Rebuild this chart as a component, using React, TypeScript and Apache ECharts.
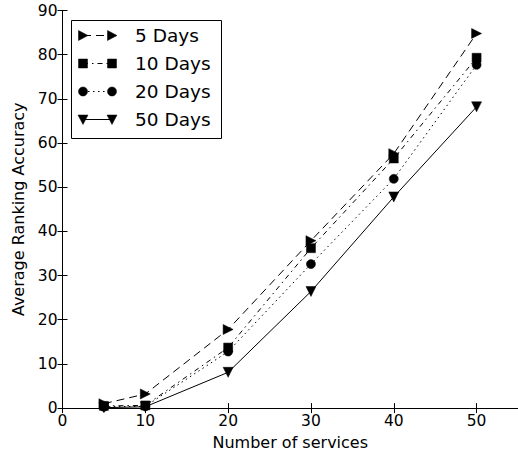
import React, { useEffect, useRef } from "react";
import * as echarts from "echarts";

const xValues = [5, 10, 20, 30, 40, 50];
const days5 = [1.0, 3.2, 17.8, 37.9, 57.6, 84.8];
const days10 = [0.5, 0.6, 13.7, 36.2, 56.5, 79.3];
const days20 = [0.3, 0.4, 12.8, 32.6, 51.9, 77.7];
const days50 = [0.1, 0.3, 8.1, 26.4, 47.8, 68.2];
const xTicks = [0, 10, 20, 30, 40, 50];
const yTicks = [0, 10, 20, 30, 40, 50, 60, 70, 80, 90];
const seriesNames = ["5 Days", "10 Days", "20 Days", "50 Days"];

const FONT = "DejaVu Sans";

export default function App() {
  const ref = useRef<HTMLDivElement>(null);
  useEffect(() => {
    if (!ref.current) return;
    const chart = echarts.init(ref.current, null, { renderer: "svg" });
    const pair = (ys: number[]) => xValues.map((x, i) => [x, ys[i]]);
    const dashes: any[] = [[8, 5], [5, 4, 1.5, 4], [1.5, 3.5], "solid"];
    const symbols = ["triangle", "rect", "circle", "triangle"];
    const rotates = [-90, 0, 0, 180];
    const sizes = [10, 9, 9, 10];
    const data = [days5, days10, days20, days50];

    const axisCommon = {
      axisLine: { show: true, lineStyle: { color: "#000", width: 1 } },
      axisTick: { show: true, inside: true, length: 5, lineStyle: { color: "#000", width: 1 } },
      splitLine: { show: false },
    };

    const lx1 = 83, lx2 = 112, textX = 135;
    const rowY = (i: number) => 35.5 + 28 * i;
    const markerShape = (i: number, cx: number, cy: number): any => {
      const st = { fill: "#000", stroke: "#000", lineWidth: 0.5 };
      if (i === 0)
        return { type: "polygon", shape: { points: [[cx - 4.5, cy - 5], [cx + 5, cy], [cx - 4.5, cy + 5]] }, style: st };
      if (i === 1) return { type: "rect", shape: { x: cx - 4.5, y: cy - 4.5, width: 9, height: 9 }, style: st };
      if (i === 2) return { type: "circle", shape: { cx, cy, r: 4.5 }, style: st };
      return { type: "polygon", shape: { points: [[cx - 5, cy - 4.5], [cx + 5, cy - 4.5], [cx, cy + 5]] }, style: st };
    };
    const legendChildren: any[] = [
      { type: "rect", shape: { x: 71.5, y: 20.5, width: 150, height: 118 }, style: { fill: "#fff", stroke: "#000", lineWidth: 1 } },
    ];
    seriesNames.forEach((name, i) => {
      const y = rowY(i);
      legendChildren.push({
        type: "line",
        shape: { x1: lx1, y1: y, x2: lx2, y2: y },
        style: { stroke: "#000", lineWidth: 1, lineDash: dashes[i] === "solid" ? null : dashes[i] },
      });
      legendChildren.push(markerShape(i, lx1, y));
      legendChildren.push(markerShape(i, lx2, y));
      legendChildren.push({
        type: "text",
        x: textX,
        y,
        style: { text: name, fontFamily: FONT, fontSize: 18.5, fill: "#000", verticalAlign: "middle", align: "left" },
      });
    });

    chart.setOption({
      animation: false,
      backgroundColor: "#fff",
      grid: { left: 62.5, top: 10.5, right: -1, bottom: 44.5, containLabel: false },
      xAxis: [
        {
          type: "value",
          min: 0,
          max: 55,
          interval: 10,
          position: "bottom",
          ...axisCommon,
          axisTick: { ...axisCommon.axisTick, customValues: xTicks },
          axisLabel: { customValues: xTicks, color: "#000", fontFamily: FONT, fontSize: 15.5, margin: 5 },
          name: "Number of services",
          nameLocation: "middle",
          nameGap: 23,
          nameTextStyle: { color: "#000", fontFamily: FONT, fontSize: 16 },
        },
        {
          type: "value",
          min: 0,
          max: 55,
          interval: 10,
          position: "top",
          ...axisCommon,
          axisTick: { ...axisCommon.axisTick, customValues: xTicks },
          axisLabel: { show: false },
        },
      ],
      yAxis: [
        {
          type: "value",
          min: 0,
          max: 90,
          interval: 10,
          position: "left",
          ...axisCommon,
          axisTick: { ...axisCommon.axisTick, customValues: yTicks },
          axisLabel: { customValues: yTicks, color: "#000", fontFamily: FONT, fontSize: 15.5, margin: 5 },
          name: "Average Ranking Accuracy",
          nameLocation: "middle",
          nameGap: 29,
          nameTextStyle: { color: "#000", fontFamily: FONT, fontSize: 16 },
        },
        {
          type: "value",
          min: 0,
          max: 90,
          interval: 10,
          position: "right",
          ...axisCommon,
          axisTick: { ...axisCommon.axisTick, customValues: yTicks },
          axisLabel: { show: false },
        },
      ],
      series: seriesNames.map((name, i) => ({
        name,
        type: "line",
        data: pair(data[i]),
        xAxisIndex: 0,
        yAxisIndex: 0,
        symbol: symbols[i],
        symbolSize: sizes[i],
        symbolRotate: rotates[i],
        showAllSymbol: true,
        clip: true,
        lineStyle: { color: "#000", width: 1, type: dashes[i] },
        itemStyle: { color: "#000", borderColor: "#000", borderWidth: 0.5 },
      })),
      graphic: [{ type: "group", children: legendChildren, z: 100 }],
    });
    return () => chart.dispose();
  }, []);
  return (
    <div
      ref={ref}
      style={{ position: "fixed", left: 0, top: 0, width: 518, height: 455, background: "#fff" }}
    />
  );
}
